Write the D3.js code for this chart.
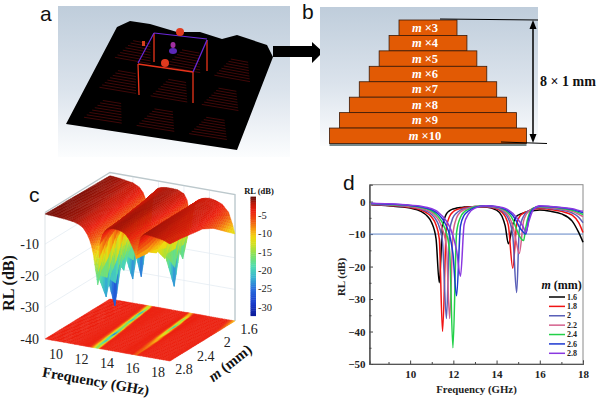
<!DOCTYPE html>
<html>
<head>
<meta charset="utf-8">
<script src="https://cdn.jsdelivr.net/npm/d3@7"></script>
<style>
  html, body { margin: 0; padding: 0; background: #fff; }
  svg { display: block; }
  text { font-family: "Liberation Serif", serif; }
  .panel-letter { font-family: "Liberation Sans", sans-serif; font-size: 21px; fill: #111; }
  .bold { font-weight: bold; }
</style>
</head>
<body>
<svg id="fig" width="600" height="400"></svg>
<script>
// values
var freqs = [8.2, 9, 10, 10.5, 10.8, 11, 11.2, 11.35, 11.5, 11.68, 11.83, 11.98, 12.15, 12.33, 12.5, 12.7, 13, 13.5,
  14, 14.25, 14.4, 14.55, 14.75, 14.93, 15.05, 15.25, 15.35, 15.5, 15.7, 16, 16.5, 17, 17.5, 17.8, 18];
var thickness = [1.6, 1.8, 2, 2.2, 2.4, 2.6, 2.8];
var legendLabels = ['1.6', '1.8', '2', '2.2', '2.4', '2.6', '2.8'];
var rl16 = [-1, -1.3, -2, -3, -4.5, -6.5, -11.5, -25, -7.5, -3.8, -2.8, -2.3, -2, -1.8, -1.7, -1.6, -1.6, -1.7,
  -2.6, -4.5, -7.5, -13, -7, -4.5, -4, -3.5, -3.3, -3, -2.8, -2.6, -3, -3.8, -6, -9.5, -12.5];
var rl18 = [-0.9, -1.2, -1.8, -2.6, -3.6, -4.8, -7.2, -11.5, -40, -8, -4.5, -3.2, -2.5, -2.1, -1.9, -1.7, -1.5, -1.6,
  -2.2, -3.3, -4.6, -7.5, -20.5, -7, -4.8, -3.5, -3.2, -2.8, -2.3, -2.1, -2.4, -3, -4.2, -6.5, -9.5];
var rl20 = [-0.8, -1.1, -1.6, -2.3, -3.1, -4, -5.6, -7.8, -12.5, -36, -9, -5, -3.5, -2.6, -2.2, -1.9, -1.5, -1.5,
  -2, -2.8, -3.7, -5.3, -10.5, -28, -9, -4.5, -3.5, -2.8, -2.1, -1.8, -2.1, -2.6, -3.5, -4.8, -6.5];
var rl22 = [-0.7, -1, -1.5, -2.1, -2.7, -3.4, -4.6, -6, -8.5, -14, -36, -10, -5, -3.2, -2.5, -2.1, -1.5, -1.4,
  -1.8, -2.5, -3.2, -4.3, -7.5, -13, -16, -6, -4.2, -3, -2, -1.6, -1.9, -2.3, -3, -3.9, -4.6];
var rl24 = [-0.6, -0.9, -1.3, -1.8, -2.3, -2.9, -3.9, -5, -6.6, -9.8, -15.5, -45, -9.5, -4.8, -3.2, -2.4, -1.6, -1.3,
  -1.7, -2.2, -2.7, -3.5, -5.5, -8.6, -10.5, -12, -8, -4, -2, -1.5, -1.7, -2.1, -2.7, -3.4, -4];
var rl26 = [-0.6, -0.8, -1.2, -1.6, -2.1, -2.5, -3.3, -4.2, -5.4, -7.5, -10.3, -16, -29, -7.5, -4.2, -2.9, -1.8, -1.3,
  -1.6, -2, -2.4, -3, -4.3, -6.2, -7.8, -9.5, -10, -5, -2.2, -1.4, -1.6, -1.9, -2.4, -3, -3.4];
var rl28 = [-0.5, -0.7, -1.1, -1.4, -1.8, -2.2, -2.8, -3.6, -4.5, -6, -7.8, -10.5, -15, -23, -7, -3.8, -2, -1.3,
  -1.5, -1.8, -2.1, -2.6, -3.6, -5, -6, -8, -9.5, -6, -2.5, -1.3, -1.5, -1.8, -2.2, -2.7, -3];
var allRL = [rl16, rl18, rl20, rl22, rl24, rl26, rl28];
var lineColors = ['#000000', '#f01414', '#5a60b8', '#d4608c', '#22d048', '#1c38d0', '#8a38e0'];

// the 3D plot is coarser than the curves, its spikes stop at these depths
var surfaceDepth = [-18, -28.5, -27, -22, -31, -26, -20];

var stackMultipliers = [3, 4, 5, 6, 7, 8, 9, 10];
var freqTicks3d = [10, 12, 14, 16, 18];
var thickTicks3d = [1.6, 2, 2.4, 2.8];
var rlTicks3d = [-10, -20, -30, -40];
var colorbarTicks = [-5, -10, -15, -20, -25, -30];

var svg = d3.select('#fig');
var defs = svg.append('defs');

function panelLetter(s, x, y) {
  svg.append('text').attr('class', 'panel-letter').attr('x', x).attr('y', y).text(s);
}

function skyGradient(id) {
  var g = defs.append('linearGradient').attr('id', id).attr('x1', 0).attr('x2', 0).attr('y1', 0).attr('y2', 1);
  g.append('stop').attr('offset', '0%').attr('stop-color', '#bfcddb');
  g.append('stop').attr('offset', '55%').attr('stop-color', '#dbe3ec');
  g.append('stop').attr('offset', '100%').attr('stop-color', '#fcfdfe');
}
skyGradient('sky');

drawPanelA();
drawPanelB();
drawPanelC();
drawPanelD();

/* a: the absorber array, simulation view */
function drawPanelA() {
  var a = svg.append('g').attr('class', 'panel-a');
  a.append('rect').attr('x', 58).attr('y', 6).attr('width', 232).attr('height', 151).attr('fill', 'url(#sky)');

  var plate = [[117, 27], [130, 21], [150, 24], [177, 32], [200, 32], [222, 39], [237, 35], [267, 45], [273, 57],
    [237, 150], [66, 124]];
  a.append('path').attr('d', d3.line()(plate) + 'Z').attr('fill', '#000');

  // hatched patches on the plate
  var bl = [117, 27], br = [273, 57], fl = [66, 124], fr = [237, 150];
  function onPlate(u, v) {
    var tx = bl[0] + (br[0] - bl[0]) * u, ty = bl[1] + (br[1] - bl[1]) * u;
    var bx = fl[0] + (fr[0] - fl[0]) * u, by = fl[1] + (fr[1] - fl[1]) * u;
    return [tx + (bx - tx) * v, ty + (by - ty) * v];
  }
  [0.07, 0.38, 0.69].forEach(function (u) {
    [0.1, 0.41, 0.72].forEach(function (v) {
      d3.range(8).forEach(function (k) {
        var w = 0.055 + k * 0.008;
        var p = onPlate(u + 0.12 - w, v + k * 0.027), q = onPlate(u + 0.12 + w, v + k * 0.027);
        a.append('line').attr('x1', p[0]).attr('y1', p[1]).attr('x2', q[0]).attr('y2', q[1])
          .attr('stroke', '#5c0c0c').attr('stroke-width', 0.7);
      });
    });
  });

  // wire frame
  var red = '#e8331a', violet = '#6a28d8';
  [[[154, 33], [154, 62]], [[138, 64], [139, 95]], [[193, 72], [193, 103]], [[207, 40], [207, 71]],
    [[138, 64], [193, 72]]].forEach(function (s) {
    a.append('line').attr('x1', s[0][0]).attr('y1', s[0][1]).attr('x2', s[1][0]).attr('y2', s[1][1])
      .attr('stroke', red).attr('stroke-width', 1.3);
  });
  [[[154, 33], [207, 39]], [[154, 33], [138, 63]], [[207, 40], [193, 72]]].forEach(function (s) {
    a.append('line').attr('x1', s[0][0]).attr('y1', s[0][1]).attr('x2', s[1][0]).attr('y2', s[1][1])
      .attr('stroke', violet).attr('stroke-width', 1.2);
  });

  // small parts
  a.append('circle').attr('cx', 180).attr('cy', 32).attr('r', 4).attr('fill', '#e03a1e');
  a.append('circle').attr('cx', 165).attr('cy', 63).attr('r', 4).attr('fill', '#e03a1e');
  a.append('rect').attr('x', 142).attr('y', 41).attr('width', 3).attr('height', 5).attr('fill', '#d8401e');
  a.append('ellipse').attr('cx', 173).attr('cy', 51).attr('rx', 4).attr('ry', 3).attr('fill', '#5b28b8');
  a.append('ellipse').attr('cx', 173).attr('cy', 45).attr('rx', 2.5).attr('ry', 3).attr('fill', '#a02fa0');

  // arrow to panel b
  a.append('path').attr('d', 'M273,46H312V42L323,52L312,63V57H273Z').attr('fill', '#000');
  panelLetter('a', 40, 21);
}

/* b: the stacked resonator, built from the multipliers */
function drawPanelB() {
  var b = svg.append('g').attr('class', 'panel-b');
  b.append('rect').attr('x', 320).attr('y', 7).attr('width', 218).attr('height', 139).attr('fill', 'url(#sky)');

  var cx = 428;
  var y = d3.scaleBand().domain(stackMultipliers).range([20, 143.5]);
  var w = d3.scaleLinear().domain([3, 10]).range([58, 197]);

  b.append('rect').attr('x', cx - w(10) / 2).attr('y', 143).attr('width', w(10)).attr('height', 3).attr('fill', '#76888a');

  b.selectAll('rect.layer').data(stackMultipliers).enter().append('rect')
    .attr('class', 'layer')
    .attr('x', function (d) { return cx - w(d) / 2; })
    .attr('y', function (d) { return y(d); })
    .attr('width', function (d) { return w(d); })
    .attr('height', y.bandwidth())
    .attr('fill', '#e25a04')
    .attr('stroke', '#3a1a08')
    .attr('stroke-width', 0.8);

  var labels = b.selectAll('text.layer-label').data(stackMultipliers).enter().append('text')
    .attr('class', 'layer-label bold')
    .attr('x', cx - 3)
    .attr('y', function (d) { return y(d) + y.bandwidth() / 2 + 4; })
    .attr('text-anchor', 'middle')
    .attr('fill', '#fff')
    .attr('font-size', 12.5);
  labels.append('tspan').attr('font-style', 'italic').text('m');
  labels.append('tspan').text(function (d) { return ' \u00d7' + d; });

  b.append('line').attr('x1', 440).attr('y1', 19).attr('x2', 538).attr('y2', 20).attr('stroke', '#000');
  b.append('line').attr('x1', 501).attr('y1', 142).attr('x2', 547).attr('y2', 143.5).attr('stroke', '#000');
  b.append('line').attr('x1', 533).attr('y1', 24).attr('x2', 533).attr('y2', 139).attr('stroke', '#000').attr('stroke-width', 1.5);
  b.append('path').attr('d', 'M533,20L529.5,29H536.5Z').attr('fill', '#000');
  b.append('path').attr('d', 'M533,143L529.5,134H536.5Z').attr('fill', '#000');
  b.append('text').attr('class', 'bold').attr('x', 540).attr('y', 86).attr('font-size', 14).attr('fill', '#111').text('8 \u00d7 1 mm');
  panelLetter('b', 302, 19);
}

/* c: 3D surface with its map on the floor */
function drawPanelC() {
  var c = svg.append('g').attr('class', 'panel-c');

  var color = d3.scaleLinear()
    .domain([-33, -29, -25, -22, -19, -16, -13, -11, -9, -7, -4, -2, 0])
    .range(['#0a1690', '#1a3ccc', '#2a70dc', '#38b4d0', '#50dcb0', '#80e060', '#d0e020', '#f0d810', '#f8a010', '#f06010', '#ec2010', '#c41a0a', '#5a0a06'])
    .clamp(true);

  // axes of the box: screen offset along frequency, along m, and up for RL
  var fs = d3.scaleLinear().domain([8.2, 18]).range([0, 1]);
  var ms = d3.scaleLinear().domain([2.8, 1.6]).range([0, 1]);
  var zs = d3.scaleLinear().domain([-40, 0]).range([0, 126.5]);

  function project(f, m, z) {
    return [45 + 125 * fs(f) + 65 * ms(m), 339 + 22 * fs(f) - 40 * ms(m) - zs(z)];
  }
  var line3d = d3.line();

  // box walls
  var walls = c.append('g').attr('fill', 'none');
  rlTicks3d.slice(0, 3).forEach(function (z) {
    walls.append('path').attr('stroke', '#e4ecf2').attr('stroke-width', 0.8)
      .attr('d', line3d([project(8.2, 2.8, z), project(8.2, 1.6, z), project(18, 1.6, z)]));
  });
  freqTicks3d.forEach(function (f) {
    walls.append('path').attr('stroke', '#e4ecf2').attr('stroke-width', 0.8)
      .attr('d', line3d([project(f, 1.6, -40), project(f, 1.6, 0)]));
  });
  walls.append('path').attr('stroke', '#bcc8cc').attr('stroke-width', 1.3)
    .attr('d', line3d([project(8.2, 2.8, 0), project(8.2, 1.6, 0), project(18, 1.6, 0), project(18, 1.6, -40)]));
  walls.append('path').attr('stroke', '#d4dce0').attr('stroke-width', 0.8)
    .attr('d', line3d([project(8.2, 2.8, -40), project(8.2, 2.8, 0)]));

  // mesh cells back to front, each cut into small pieces so colour follows height
  var stepsM = 6, stepsF = 3;
  var pieces = [];
  thickness.slice(0, -1).forEach(function (m, i) {
    var m2 = thickness[i + 1];
    freqs.slice(0, -1).forEach(function (f, j) {
      var f2 = freqs[j + 1];
      var z00 = Math.max(allRL[i][j], surfaceDepth[i]), z10 = Math.max(allRL[i][j + 1], surfaceDepth[i]);
      var z01 = Math.max(allRL[i + 1][j], surfaceDepth[i + 1]), z11 = Math.max(allRL[i + 1][j + 1], surfaceDepth[i + 1]);
      function at(u, v) {
        return [f + (f2 - f) * u, m + (m2 - m) * v,
          (z00 * (1 - u) + z10 * u) * (1 - v) + (z01 * (1 - u) + z11 * u) * v];
      }
      d3.range(stepsM).forEach(function (a) {
        d3.range(stepsF).forEach(function (b) {
          var u0 = b / stepsF, u1 = (b + 1) / stepsF, v0 = a / stepsM, v1 = (a + 1) / stepsM;
          var cells = [at(u0, v0), at(u1, v0), at(u1, v1), at(u0, v1)];
          pieces.push({ cells: cells, mean: d3.mean(cells, function (p) { return p[2]; }) });
        });
      });
    });
  });

  // floor map stays plain red away from the stripes
  function floorColor(d) { return color(Math.min(d.mean + 2, -4)); }
  c.append('g').selectAll('path').data(pieces).enter().append('path')
    .attr('d', function (d) {
      return line3d(d.cells.map(function (p) { return project(p[0], p[1], -40); })) + 'Z';
    })
    .attr('fill', floorColor)
    .attr('stroke', floorColor)
    .attr('stroke-width', 0.4);

  c.append('g').selectAll('path').data(pieces).enter().append('path')
    .attr('d', function (d) {
      return line3d(d.cells.map(function (p) { return project(p[0], p[1], p[2]); })) + 'Z';
    })
    .attr('fill', function (d) { return color(d.mean); })
    .attr('stroke', function (d) { return color(d.mean); })
    .attr('stroke-width', 0.4);

  // tick labels
  rlTicks3d.forEach(function (z) {
    var p = project(8.2, 2.8, z);
    c.append('text').attr('x', p[0] - 6).attr('y', p[1] + 5).attr('text-anchor', 'end')
      .attr('font-size', 14).attr('fill', '#222').text(z);
  });
  freqTicks3d.forEach(function (f) {
    var p = project(f, 2.8, -40);
    c.append('text').attr('x', p[0] - 12).attr('y', p[1] + 16).attr('text-anchor', 'middle')
      .attr('font-size', 14).attr('fill', '#222').text(f);
  });
  thickTicks3d.forEach(function (m) {
    var p = project(18, m, -40);
    c.append('text').attr('x', p[0] + 14).attr('y', p[1] + 13).attr('text-anchor', 'middle')
      .attr('font-size', 14).attr('fill', '#222').text(m);
  });

  c.append('text').attr('class', 'bold').attr('text-anchor', 'middle').attr('font-size', 16).attr('fill', '#111')
    .attr('transform', 'translate(14,283) rotate(-90)').text('RL (dB)');
  c.append('text').attr('class', 'bold').attr('text-anchor', 'middle').attr('font-size', 14.5).attr('fill', '#111')
    .attr('transform', 'translate(95,386) rotate(10)').text('Frequency (GHz)');
  var mLabel = c.append('text').attr('class', 'bold').attr('text-anchor', 'middle').attr('font-size', 15).attr('fill', '#111')
    .attr('transform', 'translate(233,367) rotate(-38)');
  mLabel.append('tspan').attr('font-style', 'italic').text('m');
  mLabel.append('tspan').text(' (mm)');

  // colour bar
  var bar = d3.scaleLinear().domain([-0.1, -32.3]).range([197.7, 315.7]);
  c.append('g').selectAll('rect').data(d3.range(-32.3, -0.1, 0.5)).enter().append('rect')
    .attr('x', 250.5).attr('width', 5.5)
    .attr('y', function (d) { return bar(d + 0.5); })
    .attr('height', function (d) { return bar(d) - bar(d + 0.5) + 0.4; })
    .attr('fill', function (d) { return color(d); });
  colorbarTicks.forEach(function (t) {
    c.append('text').attr('x', 258).attr('y', bar(t) + 3.5).attr('font-size', 10.5).attr('fill', '#222').text(t);
  });
  c.append('text').attr('class', 'bold').attr('x', 259).attr('y', 194).attr('text-anchor', 'middle')
    .attr('font-size', 8.5).attr('fill', '#111').text('RL (dB)');

  panelLetter('c', 29, 202);
}

/* d: RL curves for each m */
function drawPanelD() {
  var d = svg.append('g').attr('class', 'panel-d');
  var x = d3.scaleLinear().domain([8.12, 18]).range([369.5, 583]);
  var y = d3.scaleLinear().domain([5.2, -50]).range([184.7, 364]);

  var xAxis = d3.axisBottom(x).tickValues([10, 12, 14, 16, 18]).tickFormat(d3.format('d')).tickSize(-3.5).tickPadding(6);
  var xMinor = d3.axisBottom(x).tickValues([9, 11, 13, 15, 17]).tickFormat('').tickSize(-2);
  var yAxis = d3.axisLeft(y).tickValues([0, -10, -20, -30, -40, -50]).tickSize(-3.5).tickPadding(4);
  var yMinor = d3.axisLeft(y).tickValues([-5, -15, -25, -35, -45]).tickFormat('').tickSize(-2);

  d.append('rect').attr('x', x.range()[0]).attr('y', y.range()[0])
    .attr('width', x.range()[1] - x.range()[0]).attr('height', y.range()[1] - y.range()[0])
    .attr('fill', 'none').attr('stroke', '#8a8a8a').attr('stroke-width', 1);

  [xAxis, xMinor].forEach(function (a) {
    d.append('g').attr('transform', 'translate(0,364)').call(a);
  });
  [yAxis, yMinor].forEach(function (a) {
    d.append('g').attr('transform', 'translate(369.5,0)').call(a);
  });
  d.selectAll('.domain').attr('stroke', '#555');
  d.selectAll('.tick line').attr('stroke', '#444');
  d.selectAll('.tick text').attr('font-family', '"Liberation Serif", serif').attr('font-weight', 'bold')
    .attr('font-size', 11).attr('fill', '#222');

  d.append('line').attr('x1', x.range()[0]).attr('x2', x.range()[1]).attr('y1', y(-10)).attr('y2', y(-10))
    .attr('stroke', '#5f84c4').attr('stroke-width', 1);

  var curve = d3.line()
    .x(function (v, i) { return x(freqs[i]); })
    .y(function (v) { return y(v); })
    .curve(d3.curveMonotoneX);

  d.selectAll('path.rl').data(allRL).enter().append('path')
    .attr('class', 'rl')
    .attr('d', curve)
    .attr('fill', 'none')
    .attr('stroke', function (v, i) { return lineColors[i]; })
    .attr('stroke-width', 1.5);

  d.append('text').attr('class', 'bold').attr('x', 476.5).attr('y', 393).attr('text-anchor', 'middle')
    .attr('font-size', 10.8).attr('fill', '#222').text('Frequency (GHz)');
  d.append('text').attr('class', 'bold').attr('text-anchor', 'middle').attr('font-size', 11).attr('fill', '#222')
    .attr('transform', 'translate(345,277) rotate(-90)').text('RL (dB)');

  // legend
  var title = d.append('text').attr('class', 'bold').attr('x', 541.5).attr('y', 289).attr('font-size', 12).attr('fill', '#111');
  title.append('tspan').attr('font-style', 'italic').text('m');
  title.append('tspan').text(' (mm)');
  var ly = d3.scalePoint().domain(legendLabels).range([297, 353.3]);
  legendLabels.forEach(function (s, i) {
    d.append('line').attr('x1', 549).attr('x2', 565).attr('y1', ly(s)).attr('y2', ly(s))
      .attr('stroke', lineColors[i]).attr('stroke-width', 1.5);
    d.append('text').attr('class', 'bold').attr('x', 567).attr('y', ly(s) + 2.7).attr('font-size', 8).attr('fill', '#222').text(s);
  });

  panelLetter('d', 343, 190);
}
</script>
</body>
</html>
